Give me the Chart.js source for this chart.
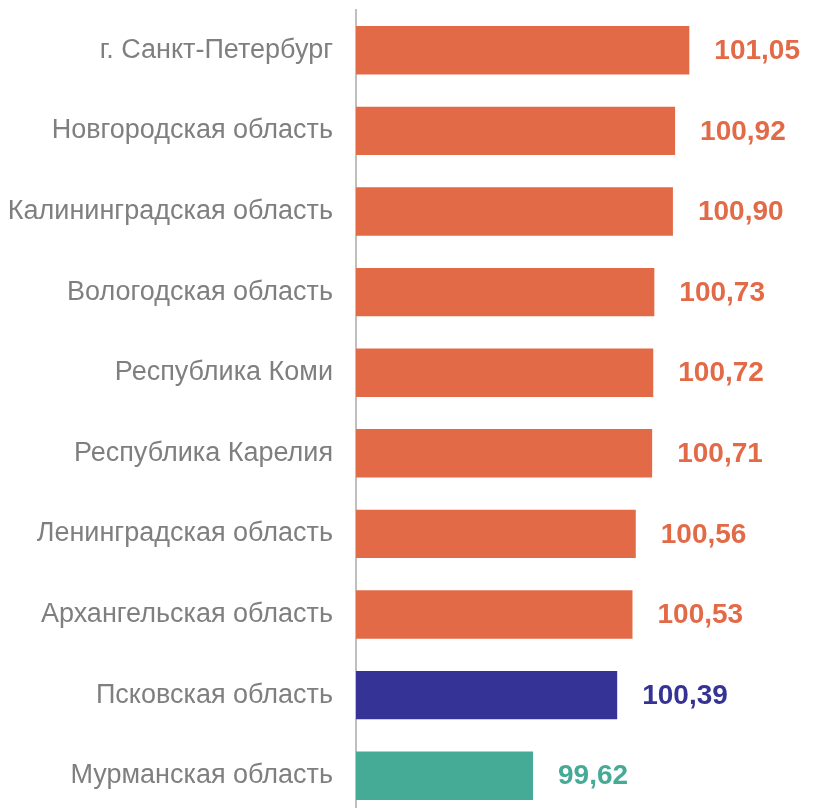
<!DOCTYPE html>
<html>
<head>
<meta charset="utf-8">
<script src="https://cdn.jsdelivr.net/npm/chart.js@4"></script>
<style>
  html, body { margin: 0; padding: 0; background: #fff; overflow: hidden; }
</style>
</head>
<body>
<canvas id="chart" width="815" height="816"></canvas>
<script>
const regions = ['г. Санкт-Петербург', 'Новгородская область', 'Калининградская область', 'Вологодская область',
  'Республика Коми', 'Республика Карелия', 'Ленинградская область', 'Архангельская область',
  'Псковская область', 'Мурманская область'];
const values = [101.05, 100.92, 100.90, 100.73, 100.72, 100.71, 100.56, 100.53, 100.39, 99.62];
const barColors = ['#E36A47', '#E36A47', '#E36A47', '#E36A47', '#E36A47', '#E36A47', '#E36A47', '#E36A47', '#353395', '#45AA96'];

// value labels to the right of each bar
const valueLabels = {
    id: 'valueLabels',
    afterDatasetsDraw(chart) {
        const ctx = chart.ctx;
        const meta = chart.getDatasetMeta(0);
        ctx.save();
        ctx.font = 'bold 28px "Liberation Sans", Arial, sans-serif';
        ctx.textBaseline = 'middle';
        ctx.textAlign = 'left';
        meta.data.forEach(function (bar, i) {
            ctx.fillStyle = barColors[i];
            ctx.fillText(values[i].toFixed(2).replace('.', ','), bar.x + 25, bar.y + 1);
        });
        ctx.restore();
    }
};

new Chart(document.getElementById('chart'), {
    type: 'bar',
    data: {
        labels: regions,
        datasets: [{
            data: values,
            backgroundColor: barColors,
            categoryPercentage: 1,
            barPercentage: 0.6
        }]
    },
    options: {
        indexAxis: 'y',
        responsive: false,
        animation: false,
        layout: { padding: { top: 10, right: 0, bottom: 0, left: 0 } },
        plugins: { legend: { display: false }, tooltip: { enabled: false } },
        scales: {
            x: { display: false, min: 98, max: 102.2 },
            y: {
                afterFit(scale) {
                    scale.width = 356;
                    scale.paddingTop = 0;   // no extra room for the tick labels
                    scale.paddingBottom = 0;
                },
                grid: { display: false, drawTicks: false },
                border: { display: true, color: '#BFBFBF', width: 2 },
                ticks: {
                    padding: 23,
                    color: '#7F7F7F',
                    font: { family: '"Liberation Sans", Arial, sans-serif', size: 27 }
                }
            }
        }
    },
    plugins: [valueLabels]
});
</script>
</body>
</html>
